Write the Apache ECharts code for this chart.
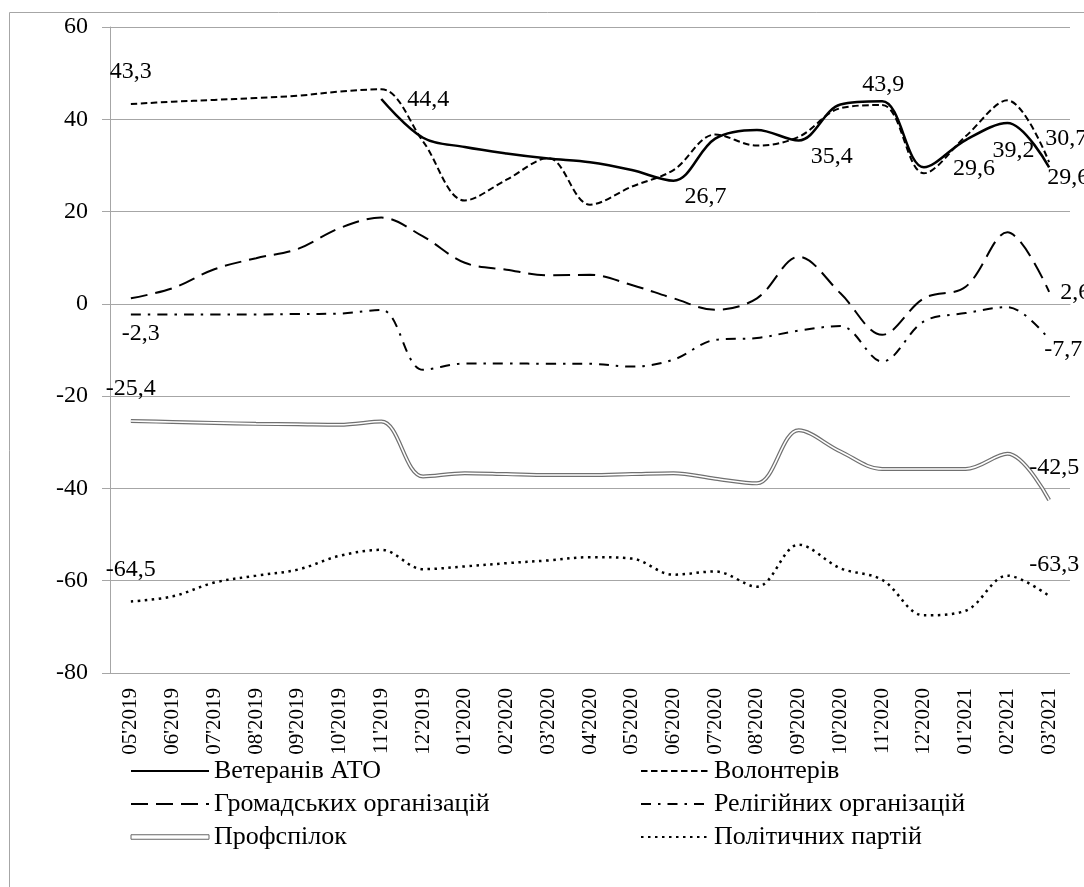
<!DOCTYPE html>
<html>
<head>
<meta charset="utf-8">
<script src="https://cdn.jsdelivr.net/npm/echarts@6/dist/echarts.min.js"></script>
<style>
html,body{margin:0;padding:0;background:#fff;}
#chart{width:1084px;height:887px;}
</style>
</head>
<body>
<div id="chart"></div>
<script>
const categories = ["05'2019","06'2019","07'2019","08'2019","09'2019","10'2019","11'2019","12'2019","01'2020","02'2020","03'2020","04'2020","05'2020","06'2020","07'2020","08'2020","09'2020","10'2020","11'2020","12'2020","01'2021","02'2021","03'2021"];
const veterans = [null,null,null,null,null,null,44.4,36.0,34.0,32.6,31.5,30.7,29.0,26.7,35.8,37.7,35.4,43.2,43.9,29.6,35.5,39.2,29.6];
const volunteers = [43.3,43.8,44.2,44.6,45.1,46.0,46.5,35.2,22.4,26.9,31.6,21.5,25.4,29.0,36.7,34.3,36.2,42.4,43.1,28.3,36.3,44.1,30.7];
const civic = [1.2,3.4,7.5,9.9,11.9,16.4,18.7,14.6,8.9,7.4,6.2,6.3,4.1,1.2,-1.3,1.2,10.2,2.3,-6.7,1.2,3.7,15.5,2.6];
const religious = [-2.3,-2.3,-2.3,-2.3,-2.2,-2.1,-1.3,-14.3,-12.9,-12.9,-13.0,-13.0,-13.6,-12.1,-7.8,-7.4,-5.8,-4.8,-12.5,-3.8,-2.0,-0.7,-7.7];
const unions = [-25.4,-25.6,-25.8,-26.0,-26.1,-26.2,-25.5,-37.4,-36.7,-36.9,-37.1,-37.1,-36.9,-36.7,-37.9,-38.9,-27.4,-32.0,-35.8,-35.8,-35.8,-32.5,-42.5];
const parties = [-64.5,-63.4,-60.4,-58.9,-57.6,-54.6,-53.3,-57.5,-56.9,-56.2,-55.6,-54.9,-55.2,-58.7,-58.0,-61.3,-52.2,-57.3,-59.8,-67.5,-66.5,-58.9,-63.3];
const yTicks = {min:-80, max:60, interval:20};

const names = ['Ветеранів АТО','Волонтерів','Громадських організацій','Релігійних організацій','Профспілок','Політичних партій'];

// label placement (offsets of label centre from the point), separate from data
const labelOffsets = {
  veterans: {6:[47,1],13:[32,16],16:[33,16],18:[1,-17],19:[50,1],21:[6,28],22:[19,10]},
  volunteers: {0:[0,-32],22:[17,-23]},
  civic: {22:[26,1]},
  religious: {0:[10,19],22:[14,10]},
  unions: {0:[0,-32],22:[5,-32]},
  parties: {0:[0,-32],22:[5,-31]}
};

const FONT = '"Liberation Serif","Times New Roman",serif';
function fmt(v){ return v.toFixed(1).replace('.', ','); }
function buildData(values, key){
  const offs = labelOffsets[key] || {};
  return values.map((v,i)=>{
    if (v === null) return null;
    if (offs[i]) {
      return {
        value: v,
        symbol: 'circle',
        symbolSize: 1,
        itemStyle: {color: 'rgba(0,0,0,0)'},
        label: {show: true, position: 'inside', offset: offs[i], formatter: fmt(v),
          color:'#000', fontFamily: FONT, fontSize: 24}
      };
    }
    return {value: v, symbol: 'none'};
  });
}
const SMOOTH = 0.35;
function lineSeries(name, values, key, lineStyle, z){
  return {
    name: name, type: 'line', data: buildData(values, key), smooth: SMOOTH,
    symbol: 'none', showSymbol: true, connectNulls: false,
    lineStyle: Object.assign({color:'#000'}, lineStyle),
    itemStyle: {color:'#000'},
    emphasis: {disabled: true}, silent: true, animation: false, z: z || 2
  };
}

const series = [
  lineSeries(names[0], veterans, 'veterans', {width: 2.5, type: 'solid'}, 5),
  lineSeries(names[1], volunteers, 'volunteers', {width: 2, type: [6.5, 3.5]}, 4),
  lineSeries(names[2], civic, 'civic', {width: 2, type: [17, 8]}),
  lineSeries(names[3], religious, 'religious', {width: 2, type: [10, 7, 2.5, 7]}),
  lineSeries(names[4], unions, 'unions', {width: 4, type: 'solid', color: '#707070'}),
  {
    name: 'inner', type: 'line', data: unions, smooth: SMOOTH, symbol: 'none',
    lineStyle: {width: 1.6, color: '#fff'}, silent: true, animation: false, z: 3
  },
  lineSeries(names[5], parties, 'parties', {width: 2.5, type: [2.5, 4.5]})
];

const chart = echarts.init(document.getElementById('chart'), null, {renderer: 'canvas'});
const legendText = {fontFamily: FONT, fontSize: 26, color: '#000', lineHeight: 21};
const noSymbol = {color: 'rgba(0,0,0,0)', borderWidth: 0};
chart.setOption({
  animation: false,
  backgroundColor: '#fff',
  graphic: [{
    type: 'rect', shape: {x: 9.5, y: 12.5, width: 1200, height: 1000},
    style: {fill: 'none', stroke: '#a6a6a6', lineWidth: 1}, silent: true, z: -10
  }],
  grid: {left: 110, right: 14, top: 27, bottom: 214},
  xAxis: {
    type: 'category', data: categories, boundaryGap: true,
    axisLine: {show: true, lineStyle: {color: '#a6a6a6', width: 1}},
    axisTick: {show: false},
    axisLabel: {rotate: 90, margin: 15, interval: 0, color: '#000', fontFamily: FONT, fontSize: 21},
    splitLine: {show: false}
  },
  yAxis: {
    type: 'value', min: yTicks.min, max: yTicks.max, interval: yTicks.interval,
    axisLine: {show: true, lineStyle: {color: '#a6a6a6', width: 1}},
    axisTick: {show: true, length: 8, lineStyle: {color: '#a6a6a6'}},
    axisLabel: {margin: 22, color: '#000', fontFamily: FONT, fontSize: 24},
    splitLine: {show: true, lineStyle: {color: '#a6a6a6', width: 1}}
  },
  legend: [
    {
      data: [names[0], names[2], {name: names[4], icon: 'path://M0,0H78V4.5H0Z',
        itemStyle: {color: '#fff', borderColor: '#666', borderWidth: 1}}],
      orient: 'vertical', left: 130, top: 758, padding: 0, itemWidth: 78, itemHeight: 14, itemGap: 7,
      itemStyle: noSymbol,
      textStyle: legendText, selectedMode: false
    },
    {
      data: [names[1], names[3], names[5]],
      orient: 'vertical', left: 640, top: 758, padding: 0, itemWidth: 68, itemHeight: 14, itemGap: 7,
      itemStyle: noSymbol,
      textStyle: legendText, selectedMode: false
    }
  ],
  series: series
});
</script>
</body>
</html>
